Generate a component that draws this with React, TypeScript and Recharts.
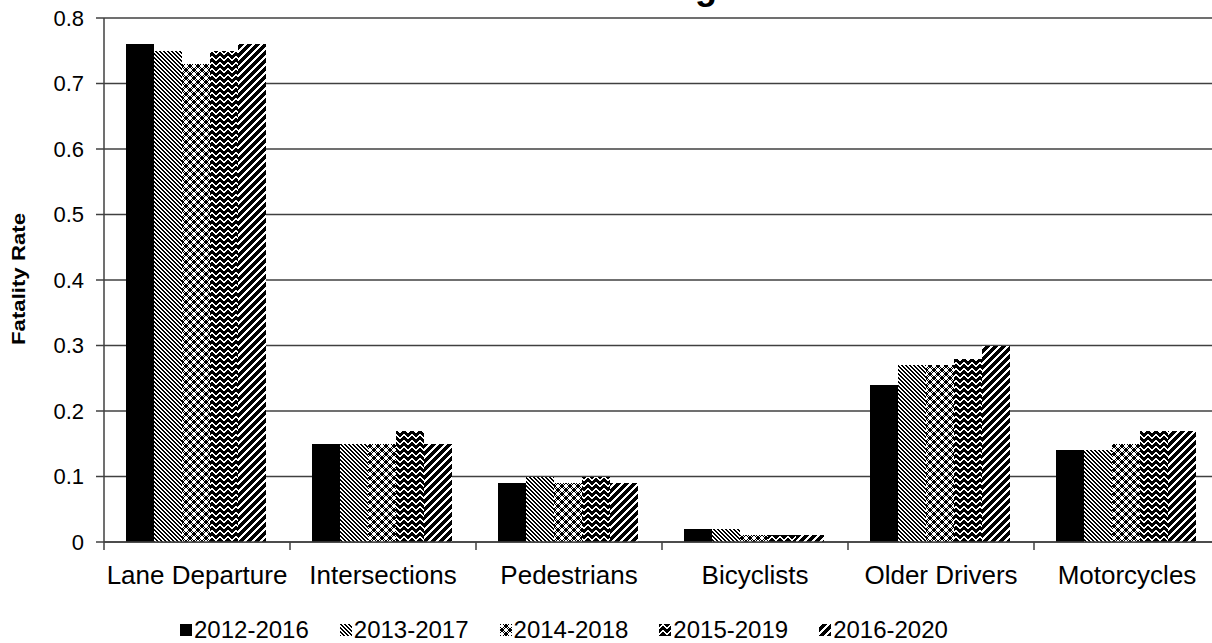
import React from 'react';
import { BarChart, Bar, XAxis, YAxis, CartesianGrid } from 'recharts';

const categories = ['Lane Departure', 'Intersections', 'Pedestrians', 'Bicyclists', 'Older Drivers', 'Motorcycles'];
const seriesNames = ['2012-2016', '2013-2017', '2014-2018', '2015-2019', '2016-2020'];
const s2012_2016 = [0.76, 0.15, 0.09, 0.02, 0.24, 0.14];
const s2013_2017 = [0.75, 0.15, 0.10, 0.02, 0.27, 0.14];
const s2014_2018 = [0.73, 0.15, 0.09, 0.01, 0.27, 0.15];
const s2015_2019 = [0.75, 0.17, 0.10, 0.01, 0.28, 0.17];
const s2016_2020 = [0.76, 0.15, 0.09, 0.01, 0.30, 0.17];
const yTicks = [0, 0.1, 0.2, 0.3, 0.4, 0.5, 0.6, 0.7, 0.8];
const yLabel = 'Fatality Rate';
const titleText = 'Rolling Rates';

const seriesValues = [s2012_2016, s2013_2017, s2014_2018, s2015_2019, s2016_2020];
const data = categories.map((c, i) => {
  const row: any = { category: c };
  seriesNames.forEach((n, k) => { row[n] = seriesValues[k][i]; });
  return row;
});

const FONT = '"Liberation Sans", Arial, Helvetica, sans-serif';
const AX = '#404040';
const T = 40;
const CHART_W = 1240;
const CHART_H = 683;
const MARGIN = { top: 58, right: 20, bottom: 41, left: 0 };
const Y_W = 104;
const PLOT_W = CHART_W - MARGIN.left - MARGIN.right - Y_W;
const BAND = PLOT_W / categories.length;

// bitmaps: 1 = black
const bitmaps: Record<string, string[]> = {
  pat2: ['1100', '0110', '0011', '1001'],
  pat3: ['10010110', '00001111', '00001111', '10010110', '01101001', '11110000', '11110000', '01101001'],
  pat4: ['11100111', '11000011', '10011001', '00111100', '01111110', '11111111'],
  pat5: [
    '00011111', '00111110', '01111100', '11111000', '11110001', '11100011', '11000111', '10001111',
  ],
};

function PatternDef({ id, rows }: { id: string; rows: string[] }) {
  const h = rows.length;
  const w = rows[0].length;
  const rects: any[] = [];
  rows.forEach((r, y) => {
    for (let x = 0; x < w; x++) {
      if (r[x] === '1') rects.push(<rect key={x + '-' + y} x={x} y={y} width={1} height={1} fill="#000" />);
    }
  });
  return (
    <pattern id={id} width={w} height={h} patternUnits="userSpaceOnUse">
      <rect x={0} y={0} width={w} height={h} fill="#fff" />
      {rects}
    </pattern>
  );
}

const fills = ['#000', 'url(#pat2)', 'url(#pat3)', 'url(#pat4)', 'url(#pat5)'];

function CatTick(props: any) {
  const { x, y, payload, index } = props;
  const half = BAND / 2;
  return (
    <g>
      <line x1={x - half} x2={x - half} y1={y} y2={y + 8} stroke={AX} strokeWidth={1.5} />
      {index === categories.length - 1 ? (
        <line x1={x + half} x2={x + half} y1={y} y2={y + 8} stroke={AX} strokeWidth={1.5} />
      ) : null}
      <text x={x} y={y + 42} textAnchor="middle" fontSize={26} fill="#000" fontFamily={FONT}>
        {payload.value}
      </text>
    </g>
  );
}

export default function App() {
  return (
    <div style={{ position: 'fixed', left: 0, top: 0, width: 1212, height: 643, overflow: 'hidden', background: '#fff' }}>
      <svg width={0} height={0} style={{ position: 'absolute' }} shapeRendering="crispEdges">
        <defs>
          {Object.keys(bitmaps).map((k) => (
            <PatternDef key={k} id={k} rows={bitmaps[k]} />
          ))}
        </defs>
      </svg>
      <div style={{ position: 'absolute', left: 0, top: -T }}>
        <BarChart width={CHART_W} height={CHART_H} data={data} margin={MARGIN} barCategoryGap="12%" barGap={0}>
          <CartesianGrid vertical={false} stroke={AX} strokeWidth={1.5} />
          <XAxis
            dataKey="category"
            height={60}
            tickSize={0}
            tickMargin={0}
            tickLine={false}
            axisLine={{ stroke: AX, strokeWidth: 1.5 }}
            tick={<CatTick />}
            interval={0}
          />
          <YAxis
            width={Y_W}
            domain={[0, 0.8]}
            ticks={yTicks}
            interval={0}
            tickSize={8}
            tickMargin={12}
            axisLine={{ stroke: AX, strokeWidth: 1.5 }}
            tickLine={{ stroke: AX, strokeWidth: 1.5 }}
            tick={{ fontSize: 22, fill: '#000', fontFamily: FONT }}
            tickFormatter={(v: number) => String(Number(v.toFixed(1)))}
          />
          {seriesNames.map((n, k) => (
            <Bar key={n} dataKey={n} fill={fills[k]} isAnimationActive={false} shapeRendering="crispEdges" />
          ))}
        </BarChart>
      </div>
      <svg width={1212} height={643} style={{ position: 'absolute', left: 0, top: 0, pointerEvents: 'none' }}>
        <text x={595} y={-1} fontSize={36} fontWeight="bold" fontFamily={FONT} fill="#000">{titleText}</text>
        <text
          x={18}
          y={279}
          transform="rotate(-90 18 279)"
          textAnchor="middle"
          dominantBaseline="central"
          fontSize={19}
          fontWeight="bold"
          fontFamily={FONT}
          fill="#000"
          textLength={132}
          lengthAdjust="spacingAndGlyphs"
        >
          {yLabel}
        </text>
      </svg>
      <div
        style={{
          position: 'absolute',
          left: 180,
          top: 616,
          display: 'flex',
          alignItems: 'center',
          fontFamily: FONT,
          fontSize: 24,
          color: '#000',
          whiteSpace: 'nowrap',
        }}
      >
        {seriesNames.map((n, k) => (
          <div key={n} style={{ display: 'flex', alignItems: 'center', marginRight: 31 }}>
            <svg width={12} height={12} style={{ marginRight: 2 }} shapeRendering="crispEdges">
              <rect x={0} y={0} width={12} height={12} fill={fills[k]} />
            </svg>
            <span>{n}</span>
          </div>
        ))}
      </div>
    </div>
  );
}
